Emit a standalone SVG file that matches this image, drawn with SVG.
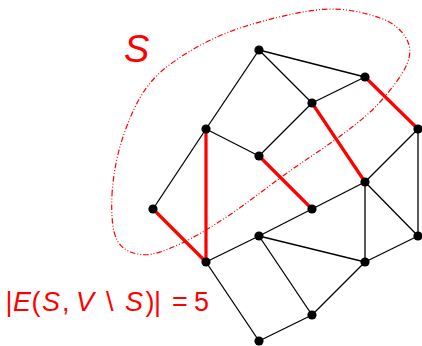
<svg xmlns="http://www.w3.org/2000/svg" width="422" height="346" viewBox="0 0 422 346">
<style>
.e{stroke:#000;stroke-width:1.3;fill:none}
.c{stroke:#ff0000;stroke-width:3.2;fill:none}
.n{fill:#000}
.t{font-family:"Liberation Sans",Arial,sans-serif;fill:#ff0000}
.i{font-style:italic}
</style>
<rect width="422" height="346" fill="#fff"/>
<path id="region" d="M112,195 C112.83,178.33 116.17,158 122,140 C127.83,122 136.17,101.5 147,87 C157.83,72.5 170.83,63.05 187,53 C203.17,42.95 221.17,33.98 244,26.7 C266.83,19.42 301.33,10.75 324,9.3 C346.67,7.85 366.33,13.22 380,18 C393.67,22.78 401.5,30.33 406,38 C410.5,45.67 411.33,53.33 407,64 C402.67,74.67 390.5,90.45 380,102 C369.5,113.55 359.5,121.47 344,133.3 C328.5,145.13 306.33,159.22 287,173 C267.67,186.78 245.83,204.17 228,216 C210.17,227.83 194.17,237.55 180,244 C165.83,250.45 153.5,255.37 143,254.7 C132.5,254.03 122.17,249.95 117,240 C111.83,230.05 111.17,211.67 112,195 Z" fill="none" stroke="#ff0000" stroke-width="1.2" stroke-dasharray="5.5 2 1 2 1 2"/>
<g id="connectors">
<line class="e" x1="259" y1="50" x2="365" y2="77"/>
<line class="e" x1="259" y1="50" x2="312" y2="103"/>
<line class="e" x1="259" y1="50" x2="206" y2="129"/>
<line class="e" x1="365" y1="77" x2="312" y2="103"/>
<line class="e" x1="312" y1="103" x2="259" y2="156"/>
<line class="e" x1="206" y1="129" x2="259" y2="156"/>
<line class="e" x1="206" y1="129" x2="153" y2="209"/>
<line class="e" x1="418" y1="129" x2="365" y2="182"/>
<line class="e" x1="418" y1="129" x2="418" y2="236"/>
<line class="e" x1="365" y1="182" x2="312" y2="209"/>
<line class="e" x1="365" y1="182" x2="365" y2="262"/>
<line class="e" x1="365" y1="182" x2="418" y2="236"/>
<line class="e" x1="312" y1="209" x2="259" y2="236"/>
<line class="e" x1="259" y1="236" x2="365" y2="262"/>
<line class="e" x1="259" y1="236" x2="312" y2="315"/>
<line class="e" x1="259" y1="236" x2="206" y2="262"/>
<line class="e" x1="206" y1="262" x2="259" y2="341"/>
<line class="e" x1="365" y1="262" x2="418" y2="236"/>
<line class="e" x1="365" y1="262" x2="312" y2="315"/>
<line class="e" x1="312" y1="315" x2="259" y2="341"/>
<line class="c" x1="206" y1="129" x2="206" y2="262"/>
<line class="c" x1="153" y1="209" x2="206" y2="262"/>
<line class="c" x1="259" y1="156" x2="312" y2="209"/>
<line class="c" x1="312" y1="103" x2="365" y2="182"/>
<line class="c" x1="365" y1="77" x2="418" y2="129"/>
</g>
<g id="v1"><circle class="n" cx="259" cy="50" r="4.6"/></g>
<g id="v2"><circle class="n" cx="365" cy="77" r="4.6"/></g>
<g id="v3"><circle class="n" cx="312" cy="103" r="4.6"/></g>
<g id="v4"><circle class="n" cx="418" cy="129" r="4.6"/></g>
<g id="v5"><circle class="n" cx="259" cy="156" r="4.6"/></g>
<g id="v6"><circle class="n" cx="206" cy="129" r="4.6"/></g>
<g id="v7"><circle class="n" cx="153" cy="209" r="4.6"/></g>
<g id="v8"><circle class="n" cx="206" cy="262" r="4.6"/></g>
<g id="v9"><circle class="n" cx="365" cy="182" r="4.6"/></g>
<g id="v10"><circle class="n" cx="312" cy="209" r="4.6"/></g>
<g id="v11"><circle class="n" cx="259" cy="236" r="4.6"/></g>
<g id="v12"><circle class="n" cx="418" cy="236" r="4.6"/></g>
<g id="v13"><circle class="n" cx="365" cy="262" r="4.6"/></g>
<g id="v14"><circle class="n" cx="312" cy="315" r="4.6"/></g>
<g id="v15"><circle class="n" cx="259" cy="341" r="4.6"/></g>
<text class="t i" x="124" y="62" font-size="38">S</text>
<text class="t" y="311" font-size="27"><tspan x="5.5">|</tspan><tspan class="i" x="13">E</tspan><tspan x="31.5">(</tspan><tspan class="i" x="42">S</tspan><tspan x="62">,</tspan><tspan class="i" x="76">V</tspan><tspan x="106">\</tspan><tspan class="i" x="125">S</tspan><tspan x="145.5">)</tspan><tspan x="154">|</tspan><tspan x="172">=</tspan><tspan x="194">5</tspan></text>
</svg>
